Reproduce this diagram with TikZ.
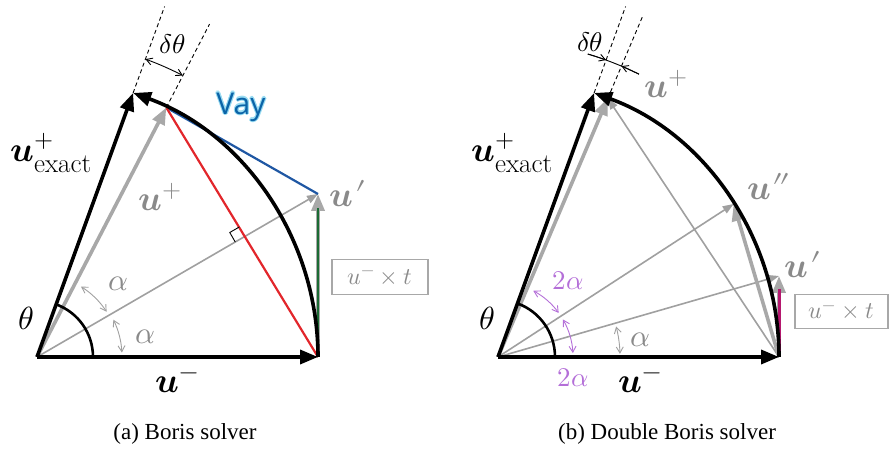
\documentclass[tikz,border=0pt]{standalone}
\usepackage{fontspec}
\usepackage{unicode-math}
\setmathfont{Latin Modern Math}
\newfontfamily\capfont{Liberation Serif}
\newfontfamily\vayfont{Open Sans}
\usetikzlibrary{arrows.meta,calc}
\definecolor{lgray}{HTML}{A8A8A8}
\definecolor{tgray}{HTML}{A0A0A0}
\definecolor{labgray}{HTML}{8A8A8A}
\definecolor{redl}{HTML}{E2262B}
\definecolor{bluel}{HTML}{1F57A3}
\definecolor{greenl}{HTML}{1B6B34}
\definecolor{magl}{HTML}{B5176E}
\definecolor{purp}{HTML}{B46FD8}
\definecolor{vayblue}{HTML}{0B64A8}
\definecolor{vayhalo}{HTML}{9ADCF2}
\newcommand{\bu}{\symbfit{u}}
\newcommand{\pr}{\mkern1mu{\prime}}
\newcommand{\ppr}{\mkern1mu{\prime}\mkern-2mu{\prime}}
\newcommand{\exsub}{_{\hbox{\fontsize{27}{30}\selectfont exact}}}
\tikzset{
  thickblack/.style={line width=3.6pt,black,-{Triangle[length=18pt,width=14pt]}},
  thickgray/.style={line width=3.6pt,lgray,-{Triangle[length=17pt,width=13pt]}},
  thingray/.style={line width=1.6pt,tgray,-{Triangle[length=11pt,width=8pt]}},
  dashline/.style={line width=0.9pt,dash pattern=on 4pt off 3pt,black},
  dtharrow/.style={line width=0.9pt,black,{Straight Barb[length=6pt,width=7pt]}-{Straight Barb[length=6pt,width=7pt]}},
  dtbarb/.style={line width=0.9pt,black,-{Straight Barb[length=6pt,width=7pt]}},
  alphaarrow/.style={line width=0.9pt,tgray,{Straight Barb[length=6pt,width=7pt]}-{Straight Barb[length=6pt,width=7pt]}},
  purparrow/.style={line width=0.9pt,purp,{Straight Barb[length=6pt,width=7pt]}-{Straight Barb[length=6pt,width=7pt]}},
  thetaarc/.style={line width=2.6pt,black},
  ulab/.style={font=\fontsize{35}{40}\selectfont,inner sep=0pt},
  glab/.style={font=\fontsize{35}{40}\selectfont,inner sep=0pt,text=labgray},
  greek/.style={font=\fontsize{32}{38}\selectfont,inner sep=0pt},
  ggreek/.style={font=\fontsize{31}{36}\selectfont,inner sep=0pt,text=labgray},
  pgreek/.style={font=\fontsize{27}{32}\selectfont,inner sep=0pt,text=purp},
  dtlab/.style={font=\fontsize{27}{32}\selectfont,inner sep=0pt},
  boxstyle/.style={draw=lgray,line width=1.8pt,text=labgray,font=\fontsize{24}{28}\selectfont,inner sep=0pt},
  capstyle/.style={font=\capfont\fontsize{23}{27}\selectfont,inner sep=0pt},
  vaytext/.style={font=\vayfont\fontsize{30}{36}\selectfont,inner sep=0pt}
}
\begin{document}
\begin{tikzpicture}[x=1pt,y=1pt]
\useasboundingbox (0,0) rectangle (890,449);
% ================= LEFT PANEL =================
\begin{scope}[shift={(37,92)}]
\coordinate (O) at (0,0);
\coordinate (A) at (281,0);
\coordinate (E) at (70:281);
\coordinate (P) at (62.6:281);
\coordinate (Q) at (281,163);
\coordinate (I) at (207.8,120.5);
\coordinate (Ed) at (70:373);
\coordinate (Pd) at (62.6:375);
\draw[dashline] (E) -- (Ed);
\draw[dashline] (P) -- (Pd);
\draw[dtharrow] (62.6:317) arc[start angle=62.6,end angle=70,radius=317];
\node[dtlab] (dtl) at (66.6:341) {$\delta\theta$};
\draw[thingray] (O) -- (Q);
\draw[thickgray] (A) -- (Q);
\draw[line width=2.6pt,greenl] (A) -- ($(Q)+(0,-14)$);
\draw[line width=2.2pt,bluel] (P) -- (Q);
\draw[line width=2.2pt,redl] (A) -- (P);
\draw[line width=0.9pt,black] ($(I)+(30.1:-11)$) -- ++(120.1:11) -- ++(30.1:11);
\draw[thickgray] (O) -- (P);
\draw[thickblack] (O) -- (E);
\draw[thickblack] (A) arc[start angle=0,end angle=70,radius=281];
\draw[thickblack] (O) -- (A);
\draw[thetaarc] (56,0) arc[start angle=0,end angle=70,radius=56];
\draw[alphaarrow] (33:83) arc[start angle=33,end angle=58,radius=83];
\draw[alphaarrow] (3:85) arc[start angle=3,end angle=26,radius=85];
\node[ggreek] (al1) at (42:109) {$\alpha$};
\node[ggreek] (al2) at (10.5:110) {$\alpha$};
\end{scope}
\node[greek] (thl) at (26,131) {$\theta$};
\node[ulab] (uexl) at (51,296) {$\bu^{+}\exsub$};
\node[glab] (upl) at (160,252) {$\bu^{+}$};
\node[glab] (uprl) at (348,255) {$\bu\pr$};
\node[ulab] (uml) at (177,66) {$\bu^{-}$};
\node[boxstyle,minimum width=96pt,minimum height=35pt] (boxl) at (380,172) {$u^{-}\times t$};
\foreach \dx/\dy in {1.1/0,-1.1/0,0/1.1,0/-1.1,0.8/0.8,-0.8/0.8,0.8/-0.8,-0.8/-0.8}{
  \node[vaytext,text=vayhalo] at (241+\dx,342+\dy) {Vay};
}
\node[vaytext,text=vayblue] (vay) at (241,342) {Vay};
% ================= RIGHT PANEL =================
\begin{scope}[shift={(498,92)}]
\coordinate (O2) at (0,0);
\coordinate (A2) at (281,0);
\coordinate (E2) at (70:281);
\coordinate (P2) at (67:281);
\coordinate (U2) at (33:281);
\coordinate (V2) at (281,81);
\coordinate (E2d) at (70:373);
\coordinate (P2d) at (67:371);
\draw[dashline] (E2) -- (E2d);
\draw[dashline] (P2) -- (P2d);
\draw[line width=0.9pt,black] (63.5:316) arc[start angle=63.5,end angle=73.5,radius=316];
\draw[dtbarb] (63.5:316) arc[start angle=63.5,end angle=67,radius=316];
\draw[dtbarb] (73.5:316) arc[start angle=73.5,end angle=70,radius=316];
\draw[thingray] (O2) -- (V2);
\draw[thingray] (O2) -- (U2);
\draw[thingray] (A2) -- (P2);
\draw[thickgray] (A2) -- (V2);
\draw[line width=3pt,magl] (A2) -- ($(V2)+(0,-13)$);
\draw[thickgray] (A2) -- (U2);
\draw[thickgray] (O2) -- (P2);
\draw[thickblack] (O2) -- (E2);
\draw[thickblack] (A2) arc[start angle=0,end angle=70,radius=281];
\draw[thickblack] (O2) -- (A2);
\draw[thetaarc] (57,0) arc[start angle=0,end angle=70,radius=57];
\draw[purparrow] (36:75) arc[start angle=36,end angle=62,radius=75];
\draw[purparrow] (3:75) arc[start angle=3,end angle=30,radius=75];
\draw[alphaarrow] (1.5:122) arc[start angle=1.5,end angle=14.5,radius=122];
\end{scope}
\node[dtlab] (dtr) at (590,407) {$\delta\theta$};
\node[greek] (thr) at (487,131) {$\theta$};
\node[pgreek] (a2u) at (568,168) {$2\alpha$};
\node[pgreek] (a2d) at (573,71) {$2\alpha$};
\node[ggreek] (ar) at (640,109) {$\alpha$};
\node[ulab] (uexr) at (512,296) {$\bu^{+}\exsub$};
\node[glab] (upr) at (666,365) {$\bu^{+}$};
\node[glab] (uppr) at (769,262) {$\bu\ppr$};
\node[glab] (uprr) at (803,184) {$\bu\pr$};
\node[ulab] (umr) at (640,66) {$\bu^{-}$};
\node[boxstyle,minimum width=93pt,minimum height=34pt] (boxr) at (841.5,137.5) {$u^{-}\times t$};
\node[capstyle] (capa) at (185,15) {(a) Boris solver};
\node[capstyle] (capb) at (667,15) {(b) Double Boris solver};
\end{tikzpicture}
\end{document}
